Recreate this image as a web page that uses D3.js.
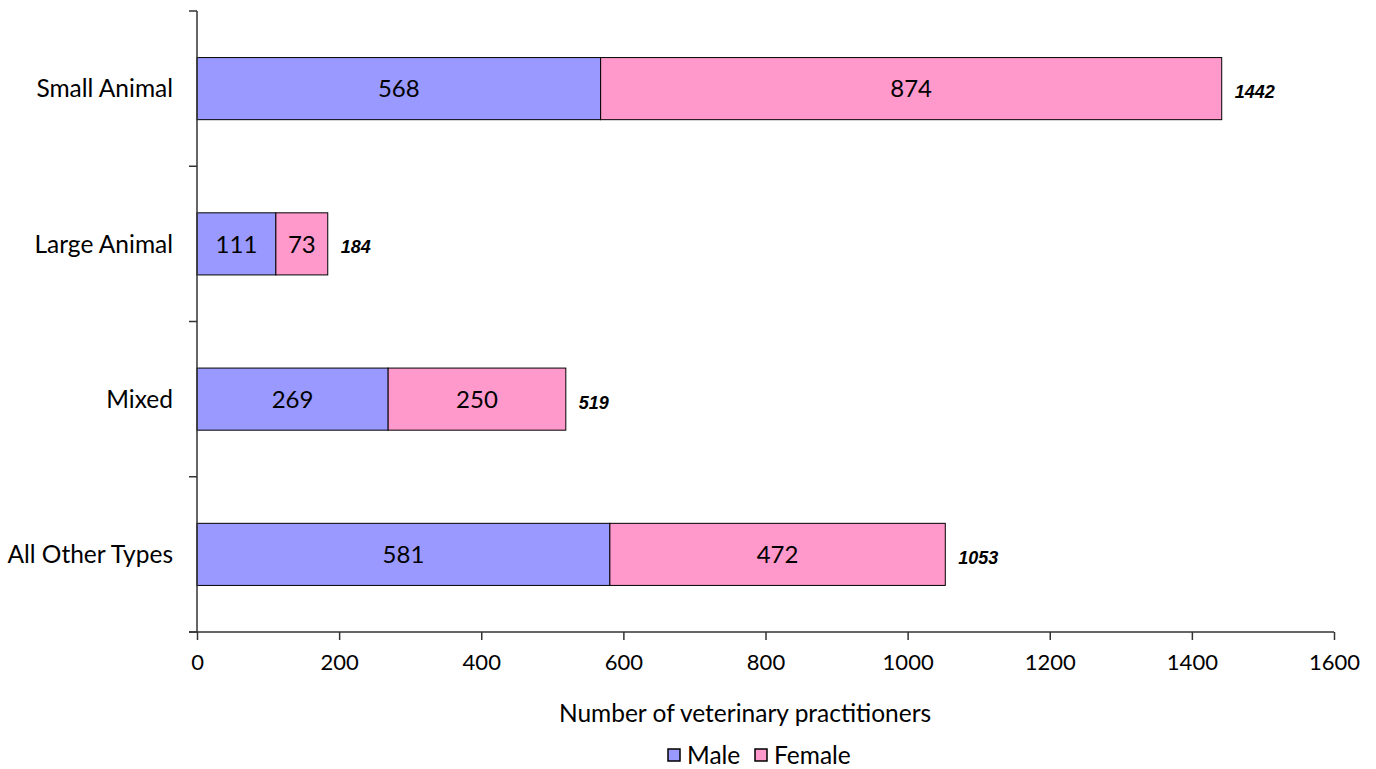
<!DOCTYPE html>
<html>
<head>
<meta charset="utf-8">
<script src="https://cdn.jsdelivr.net/npm/d3@7"></script>
<style>
  html, body { margin: 0; padding: 0; background: #ffffff; }
  svg { display: block; }
  text { font-family: Lato, "Open Sans", sans-serif; fill: #000; }
</style>
</head>
<body>
<svg id="chart" width="1376" height="769"></svg>
<script>
// Practice types and headcounts by sex
const categories = ["Small Animal", "Large Animal", "Mixed", "All Other Types"];
const male = [568, 111, 269, 581];
const female = [874, 73, 250, 472];
const totals = [1442, 184, 519, 1053];
const xTicks = [0, 200, 400, 600, 800, 1000, 1200, 1400, 1600];
const seriesNames = ["Male", "Female"];
const seriesColors = ["#9999FF", "#FF99CC"];

const svg = d3.select("#chart");
const plotLeft = 197, plotRight = 1334, plotTop = 11, plotBottom = 632;

const x = d3.scaleLinear().domain([0, 1600]).range([plotLeft, plotRight]);
const y = d3.scaleBand().domain(categories).range([plotTop, plotBottom]).paddingInner(0.6).paddingOuter(0.3);
const yBands = d3.scaleBand().domain(categories).range([plotTop, plotBottom]);

const rows = categories.map((c, i) => ({ cat: c, m: male[i], f: female[i], t: totals[i] }));

// Stacked segments
const stack = d3.stack().keys(["m", "f"])(rows);
stack.forEach((layer, li) => {
  svg.append("g").selectAll("rect").data(layer).join("rect")
    .attr("x", d => x(d[0]))
    .attr("y", d => y(d.data.cat))
    .attr("width", d => x(d[1]) - x(d[0]))
    .attr("height", y.bandwidth())
    .attr("fill", seriesColors[li])
    .attr("stroke", "#000")
    .attr("stroke-width", 1);
  svg.append("g").selectAll("text").data(layer).join("text")
    .attr("x", d => (x(d[0]) + x(d[1])) / 2)
    .attr("y", d => y(d.data.cat) + y.bandwidth() / 2)
    .attr("dy", "0.36em")
    .attr("text-anchor", "middle")
    .style("font-size", "24px")
    .text(d => d[1] - d[0]);
});

// Totals at the end of each bar
svg.append("g").selectAll("text").data(rows).join("text")
  .attr("x", d => x(d.t) + 13)
  .attr("y", d => y(d.cat) + y.bandwidth() / 2 + 3)
  .attr("dy", "0.36em")
  .style("font-family", "'Liberation Sans', Arial, sans-serif")
  .style("font-weight", "bold")
  .style("font-style", "italic")
  .style("font-size", "18px")
  .text(d => d.t);

// Y axis with ticks between categories
const yAxisG = svg.append("g");
yAxisG.append("line").attr("x1", plotLeft).attr("x2", plotLeft).attr("y1", plotTop).attr("y2", plotBottom)
  .attr("stroke", "#333").attr("stroke-width", 1.5);
const boundaries = categories.map(c => yBands(c)).concat([plotBottom]);
yAxisG.selectAll("line.tick").data(boundaries).join("line")
  .attr("class", "tick")
  .attr("x1", plotLeft - 8).attr("x2", plotLeft).attr("y1", d => d).attr("y2", d => d)
  .attr("stroke", "#333").attr("stroke-width", 1.5);
yAxisG.selectAll("text").data(categories).join("text")
  .attr("x", plotLeft - 24)
  .attr("y", d => yBands(d) + yBands.bandwidth() / 2)
  .attr("dy", "0.36em")
  .attr("text-anchor", "end")
  .style("font-size", "24.5px")
  .text(d => d);

// X axis
const xAxis = d3.axisBottom(x).tickValues(xTicks).tickFormat(d3.format("d"))
  .tickSize(8).tickSizeOuter(0).tickPadding(14);
const xg = svg.append("g").attr("transform", `translate(0,${plotBottom})`).call(xAxis);
xg.select(".domain").attr("stroke", "#333").attr("stroke-width", 1.5).attr("d", `M${plotLeft - 8},0H${plotRight}`);
xg.selectAll(".tick line").attr("stroke", "#333").attr("stroke-width", 1.5);
xg.selectAll(".tick text").style("font-size", "22px").style("font-family", "Lato, sans-serif").attr("fill", "#000");

svg.append("text")
  .attr("x", 745)
  .attr("y", 713)
  .attr("dy", "0.36em")
  .attr("text-anchor", "middle")
  .style("font-size", "24.5px")
  .text("Number of veterinary practitioners");

// Legend
const legend = svg.append("g").attr("transform", "translate(668,755)");
const legendX = [0, 87];
seriesNames.forEach((n, i) => {
  const g = legend.append("g").attr("transform", `translate(${legendX[i]},0)`);
  g.append("rect").attr("x", 0).attr("y", -6).attr("width", 12).attr("height", 12)
    .attr("fill", seriesColors[i]).attr("stroke", "#000").attr("stroke-width", 1.5);
  g.append("text").attr("x", 19).attr("y", 0).attr("dy", "0.36em")
    .style("font-size", "24.5px").text(n);
});
</script>
</body>
</html>
